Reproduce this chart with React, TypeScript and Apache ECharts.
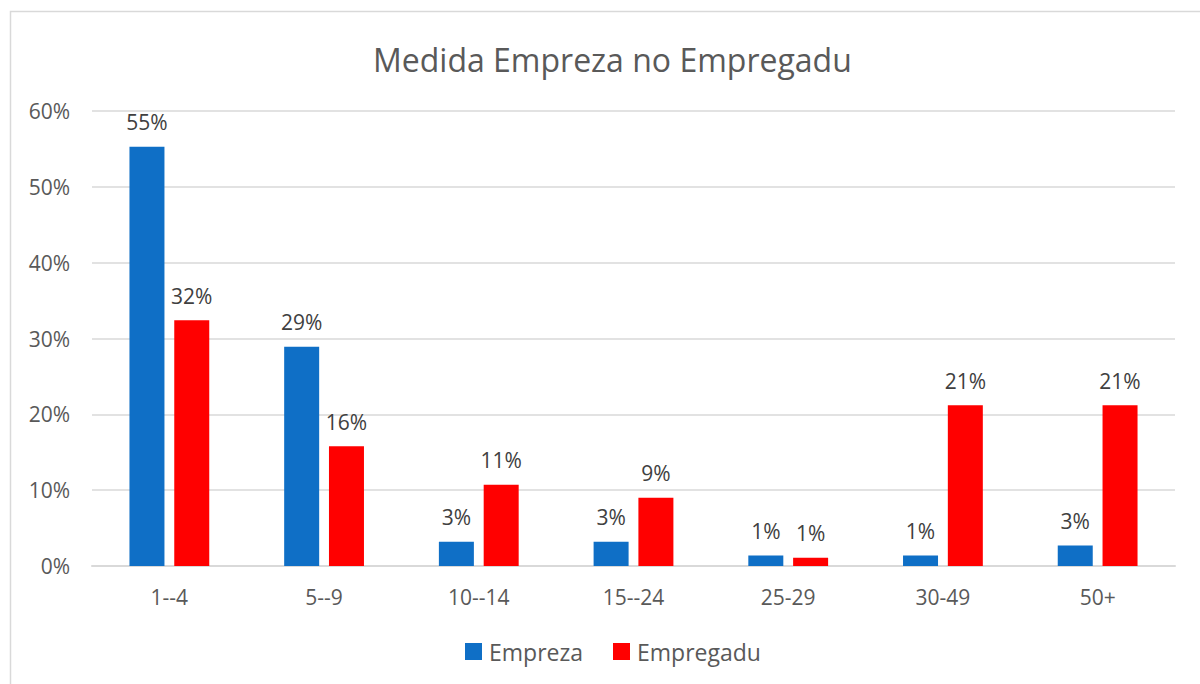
import React, { useEffect, useRef } from "react";
import * as echarts from "echarts";

const categories = ["1--4", "5--9", "10--14", "15--24", "25-29", "30-49", "50+"];
const emprezaValues = [55.3, 28.9, 3.2, 3.2, 1.4, 1.4, 2.7];
const empregaduValues = [32.4, 15.8, 10.7, 9.0, 1.1, 21.2, 21.2];
const yTicks = [0, 10, 20, 30, 40, 50, 60];

const FONT = "'Open Sans', 'Noto Sans', sans-serif";

export default function App() {
  const ref = useRef<HTMLDivElement>(null);
  useEffect(() => {
    if (!ref.current) return;
    const chart = echarts.init(ref.current, null, { renderer: "svg" });
    const label = {
      show: true,
      position: "top" as const,
      distance: 14,
      color: "#404040",
      fontSize: 21,
      fontFamily: FONT,
      formatter: (p: any) => Math.round(p.value) + "%",
    };
    chart.setOption({
      animation: false,
      backgroundColor: "#ffffff",
      title: {
        text: "Medida Empreza no Empregadu",
        left: 368,
        top: 38,
        textStyle: { color: "#595959", fontSize: 32, fontWeight: "normal", fontFamily: FONT },
      },
      graphic: [
        {
          type: "rect",
          shape: { x: 10.5, y: 11.5, width: 1300, height: 800 },
          style: { fill: "none", stroke: "#d9d9d9", lineWidth: 1.5 },
          silent: true,
        },
      ],
      legend: {
        bottom: 16,
        left: 460,
        itemWidth: 17,
        itemHeight: 17,
        itemGap: 30,
        icon: "rect",
        textStyle: { color: "#595959", fontSize: 23, fontFamily: FONT, padding: [0, 0, 0, 2] },
        data: ["Empreza", "Empregadu"],
      },
      grid: { left: 92, right: 25, top: 111, bottom: 118 },
      xAxis: {
        type: "category",
        data: categories,
        axisLine: { lineStyle: { color: "#d9d9d9", width: 2 } },
        axisTick: { show: false },
        axisLabel: { color: "#595959", fontSize: 21, fontFamily: FONT, margin: 20 },
      },
      yAxis: {
        type: "value",
        min: 0,
        max: 60,
        interval: 10,
        axisLine: { show: false },
        axisTick: { show: false },
        splitLine: { lineStyle: { color: "#d9d9d9", width: 1.5 } },
        axisLabel: {
          color: "#595959",
          fontSize: 21,
          fontFamily: FONT,
          margin: 22,
          formatter: (v: number) => (yTicks.includes(v) ? v + "%" : ""),
        },
      },
      series: [
        {
          name: "Empreza",
          type: "bar",
          data: emprezaValues,
          itemStyle: { color: "#0f6fc6" },
          barWidth: 35,
          barGap: "28%",
          label,
        },
        {
          name: "Empregadu",
          type: "bar",
          data: empregaduValues,
          itemStyle: { color: "#ff0000" },
          barWidth: 35,
          label,
        },
      ],
    });
    return () => chart.dispose();
  }, []);
  return (
    <div
      ref={ref}
      style={{ position: "absolute", left: 0, top: 0, width: 1200, height: 684 }}
    />
  );
}
